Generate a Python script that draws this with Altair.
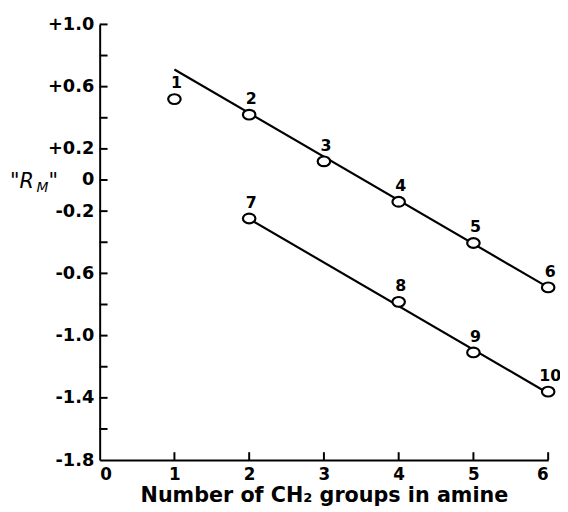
import altair as alt
import pandas as pd

# Data points (compound number, CH2 count, "R_M")
pt_label = ["1", "2", "3", "4", "5", "6", "7", "8", "9", "10"]
pt_x = [1, 2, 3, 4, 5, 6, 2, 4, 5, 6]
pt_y = [0.52, 0.42, 0.12, -0.14, -0.405, -0.69, -0.247, -0.783, -1.108, -1.36]

# Fitted lines (endpoints)
line_id = ["A", "A", "B", "B"]
line_x = [1, 6, 2, 6]
line_y = [0.71, -0.69, -0.25, -1.37]

# Axis ticks / labels
y_label_vals = [1.0, 0.6, 0.2, 0, -0.2, -0.6, -1.0, -1.4, -1.8]
y_tick_vals = [1.0, 0.8, 0.6, 0.4, 0.2, 0, -0.2, -0.4, -0.6, -0.8, -1.0, -1.2, -1.4, -1.6]
x_label_vals = [0, 1, 2, 3, 4, 5, 6]
x_tick_vals = [1, 2, 3, 4, 5, 6]

FONT = "DejaVu Sans"
W, H = 455, 442
ELLIPSE = "M-1,0A1,0.78,0,1,0,1,0A1,0.78,0,1,0,-1,0Z"

pts = pd.DataFrame({"label": pt_label, "x": pt_x, "y": pt_y})
lines = pd.DataFrame({"id": line_id, "x": line_x, "y": line_y})
yt = pd.DataFrame({"y": y_tick_vals})
xt = pd.DataFrame({"x": x_tick_vals})

xs = alt.Scale(domain=[0, 6], nice=False, zero=False)
ys = alt.Scale(domain=[-1.8, 1.0], nice=False, zero=False)

y_expr = ("datum.value > 0 ? '+' + format(datum.value, '.1f') : "
          "(datum.value == 0 ? '0' : '-' + format(abs(datum.value), '.1f'))")

x_axis = alt.Axis(values=x_label_vals, ticks=False, grid=False, domainColor="black",
                  domainWidth=2, labelFont=FONT, labelFontSize=17, labelFontWeight="bold",
                  labelColor="black", labelPadding=7,
                  title="Number of CH\u2082 groups in amine", titleFont=FONT,
                  titleFontSize=21, titleFontWeight="bold", titleColor="black",
                  titlePadding=2, format="d")
y_axis = alt.Axis(values=y_label_vals, ticks=False, grid=False, domainColor="black",
                  domainWidth=2, labelFont=FONT, labelFontSize=18, labelFontWeight="bold",
                  labelColor="black", labelPadding=6, labelExpr=y_expr, title=None)

base_lines = alt.Chart(lines).mark_line(color="black", strokeWidth=2.2).encode(
    x=alt.X("x:Q", scale=xs, axis=x_axis),
    y=alt.Y("y:Q", scale=ys, axis=y_axis),
    detail="id:N",
)

points = alt.Chart(pts).mark_point(shape=ELLIPSE, size=160, filled=True, fill="white",
                                   stroke="black", strokeWidth=2.2, opacity=1).encode(
    x=alt.X("x:Q", scale=xs), y=alt.Y("y:Q", scale=ys))

labels = alt.Chart(pts).mark_text(font=FONT, fontSize=16, fontWeight="bold", color="black",
                                  dx=2, dy=-16).encode(
    x=alt.X("x:Q", scale=xs), y=alt.Y("y:Q", scale=ys), text="label:N")

yticks = alt.Chart(yt).mark_rule(color="black", strokeWidth=2).encode(
    y=alt.Y("y:Q", scale=ys), x=alt.value(0), x2=alt.value(8))
xticks = alt.Chart(xt).mark_rule(color="black", strokeWidth=2).encode(
    x=alt.X("x:Q", scale=xs), y=alt.value(H), y2=alt.value(H - 8))

t1 = alt.Chart(pd.DataFrame({"t": ['"R']})).mark_text(
    font=FONT, fontSize=21, fontStyle="italic", align="left", baseline="alphabetic",
    color="black").encode(text="t:N", x=alt.value(-91), y=alt.value(166))
t2 = alt.Chart(pd.DataFrame({"t": ["M"]})).mark_text(
    font=FONT, fontSize=14, fontStyle="italic", align="left", baseline="alphabetic",
    color="black").encode(text="t:N", x=alt.value(-64), y=alt.value(170))
t3 = alt.Chart(pd.DataFrame({"t": ['"']})).mark_text(
    font=FONT, fontSize=21, fontStyle="italic", align="left", baseline="alphabetic",
    color="black").encode(text="t:N", x=alt.value(-52), y=alt.value(166))

chart = alt.layer(base_lines, yticks, xticks, points, labels, t1, t2, t3).properties(
    width=W, height=H,
    autosize=alt.AutoSizeParams(type="none"),
    padding={"left": 93, "top": 13, "right": 12, "bottom": 49},
    background="white",
).configure_view(stroke=None)

chart.save("out.html", embed_options={"renderer": "svg", "actions": False})
